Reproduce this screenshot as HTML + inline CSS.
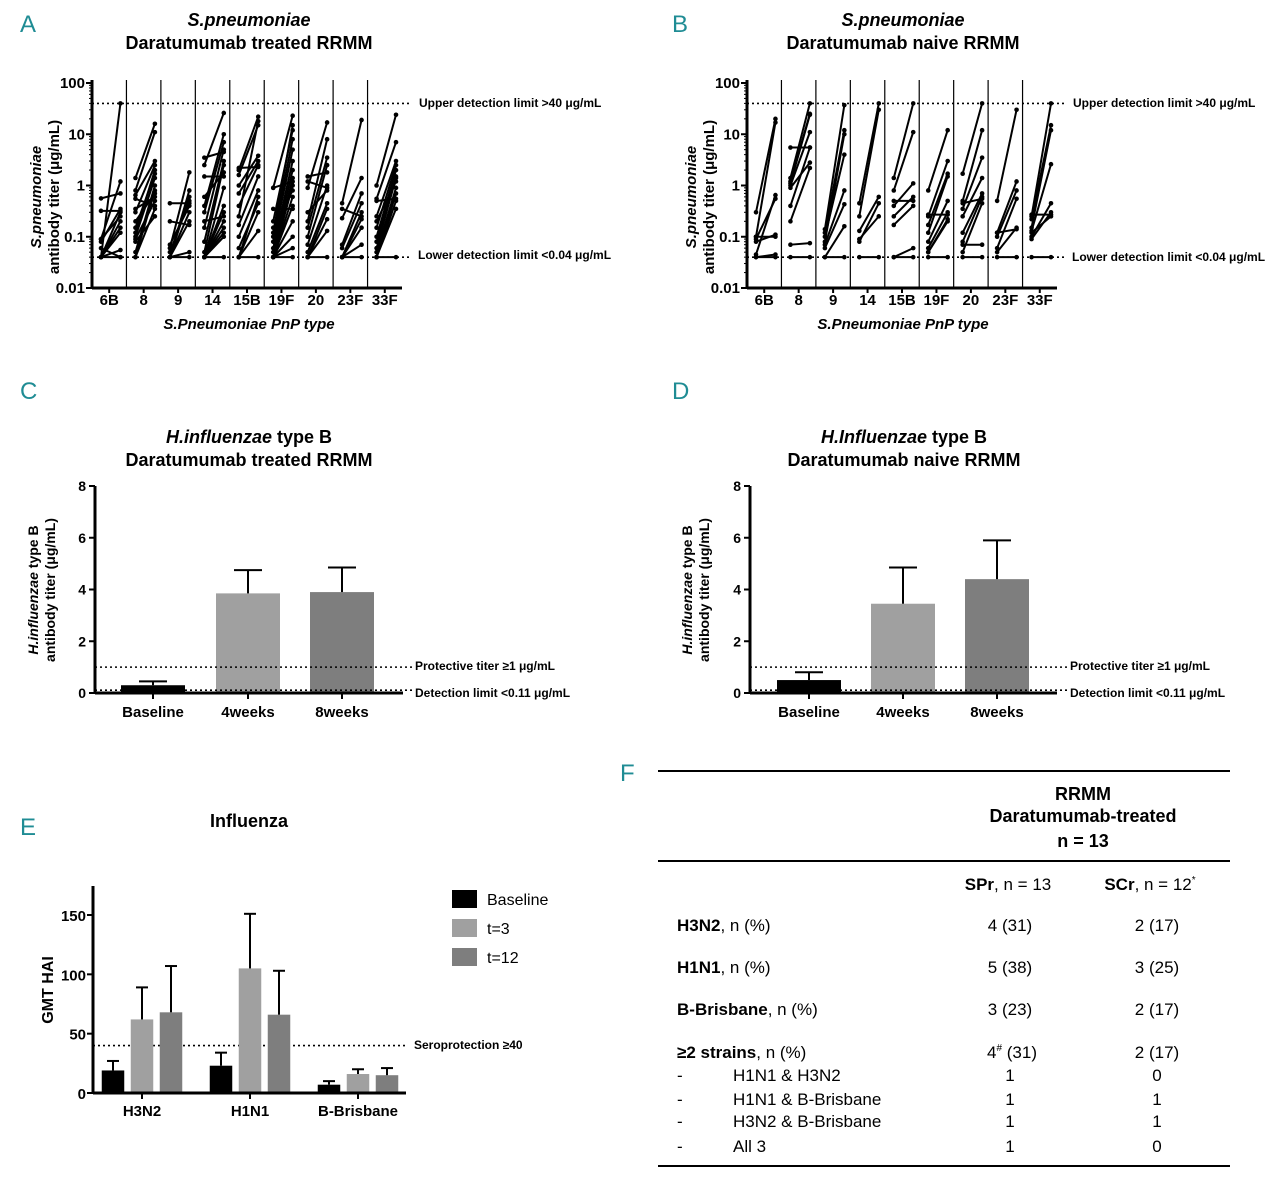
<!DOCTYPE html>
<html><head><meta charset="utf-8"><style>
body{margin:0;background:#fff;}
svg{display:block;font-family:"Liberation Sans",sans-serif;}
.b{font-weight:bold}
.n{font-family:"Liberation Sans Narrow","Liberation Sans",sans-serif;}
.lt{fill:#1f8c94;font-family:"Liberation Sans Narrow","Liberation Sans",sans-serif;font-size:24px}
</style></head><body>
<svg id="fig" width="1280" height="1178" viewBox="0 0 1280 1178" xmlns="http://www.w3.org/2000/svg">
<g id="static">
<text class="lt" x="20" y="32">A</text>
<text class="lt" x="672" y="32">B</text>
<text class="lt" x="20" y="399">C</text>
<text class="lt" x="672" y="399">D</text>
<text class="lt" x="20" y="835">E</text>
<text class="lt" x="620" y="781">F</text>

<g class="b" font-size="18" text-anchor="middle">
<text x="249" y="26" font-style="italic">S.pneumoniae</text><text x="249" y="49">Daratumumab treated RRMM</text></g>
<g class="b" font-size="18" text-anchor="middle">
<text x="903" y="26" font-style="italic">S.pneumoniae</text><text x="903" y="49">Daratumumab naive RRMM</text></g>
<g class="b" font-size="18" text-anchor="middle">
<text x="249" y="443"><tspan font-style="italic">H.influenzae</tspan> type B</text><text x="249" y="466">Daratumumab treated RRMM</text></g>
<g class="b" font-size="18" text-anchor="middle">
<text x="904" y="443"><tspan font-style="italic">H.Influenzae</tspan> type B</text><text x="904" y="466">Daratumumab naive RRMM</text></g>
<text class="b" font-size="18" x="249" y="827" text-anchor="middle">Influenza</text>

<g class="b" font-size="15">
<text transform="translate(41,197) rotate(-90)" text-anchor="middle" font-style="italic">S.pneumoniae</text>
<text transform="translate(59,197) rotate(-90)" text-anchor="middle">antibody titer (μg/mL)</text></g>
<g class="b" font-size="15">
<text transform="translate(696,197) rotate(-90)" text-anchor="middle" font-style="italic">S.pneumoniae</text>
<text transform="translate(714,197) rotate(-90)" text-anchor="middle">antibody titer (μg/mL)</text></g>
<g class="b" font-size="14">
<text transform="translate(38,590) rotate(-90)" text-anchor="middle"><tspan font-style="italic">H.influenzae</tspan> type B</text>
<text transform="translate(55,590) rotate(-90)" text-anchor="middle">antibody titer (μg/mL)</text></g>
<g class="b" font-size="14">
<text transform="translate(692,590) rotate(-90)" text-anchor="middle"><tspan font-style="italic">H.influenzae</tspan> type B</text>
<text transform="translate(709,590) rotate(-90)" text-anchor="middle">antibody titer (μg/mL)</text></g>
<text class="b" font-size="16" transform="translate(53,990) rotate(-90)" text-anchor="middle">GMT HAI</text>

<g class="b" font-size="15" font-style="italic" text-anchor="middle">
<text x="249" y="329">S.Pneumoniae PnP type</text>
<text x="903" y="329">S.Pneumoniae PnP type</text></g>

<g class="b n" font-size="12">
<text x="419" y="107">Upper detection limit &gt;40 μg/mL</text>
<text x="418" y="259">Lower detection limit &lt;0.04 μg/mL</text>
<text x="1073" y="107">Upper detection limit &gt;40 μg/mL</text>
<text x="1072" y="261">Lower detection limit &lt;0.04 μg/mL</text>
<text x="415" y="670">Protective titer ≥1 μg/mL</text>
<text x="415" y="697">Detection limit &lt;0.11 μg/mL</text>
<text x="1070" y="670">Protective titer ≥1 μg/mL</text>
<text x="1070" y="697">Detection limit &lt;0.11 μg/mL</text>
<text x="414" y="1049">Seroprotection ≥40</text>
</g>

<g font-size="16">
<rect x="452" y="890" width="25" height="18" fill="#000"/>
<text x="487" y="905">Baseline</text>
<rect x="452" y="919" width="25" height="18" fill="#a0a0a0"/>
<text x="487" y="934">t=3</text>
<rect x="452" y="948" width="25" height="18" fill="#7e7e7e"/>
<text x="487" y="963">t=12</text>
</g>

<g font-size="17">
<line x1="658" y1="771" x2="1230" y2="771" stroke="#000" stroke-width="2"/>
<line x1="658" y1="861" x2="1230" y2="861" stroke="#000" stroke-width="2"/>
<line x1="658" y1="1166" x2="1230" y2="1166" stroke="#000" stroke-width="2"/>
<g class="b" text-anchor="middle" font-size="18"><text x="1083" y="800">RRMM</text><text x="1083" y="822">Daratumumab-treated</text><text x="1083" y="847">n = 13</text></g>
<text x="1008" y="890" text-anchor="middle"><tspan class="b">SPr</tspan>, n = 13</text>
<text x="1150" y="890" text-anchor="middle"><tspan class="b">SCr</tspan>, n = 12<tspan font-size="10" dy="-7">*</tspan></text>
<text x="677" y="931"><tspan class="b">H3N2</tspan>, n (%)</text><text x="1010" y="931" text-anchor="middle">4 (31)</text><text x="1157" y="931" text-anchor="middle">2 (17)</text>
<text x="677" y="973"><tspan class="b">H1N1</tspan>, n (%)</text><text x="1010" y="973" text-anchor="middle">5 (38)</text><text x="1157" y="973" text-anchor="middle">3 (25)</text>
<text x="677" y="1015"><tspan class="b">B-Brisbane</tspan>, n (%)</text><text x="1010" y="1015" text-anchor="middle">3 (23)</text><text x="1157" y="1015" text-anchor="middle">2 (17)</text>
<text x="677" y="1058"><tspan class="b">≥2 strains</tspan>, n (%)</text><text x="1012" y="1058" text-anchor="middle">4<tspan font-size="10" dy="-7">#</tspan><tspan dy="7"> (31)</tspan></text><text x="1157" y="1058" text-anchor="middle">2 (17)</text>
<text x="677" y="1081">-</text><text x="733" y="1081">H1N1 &amp; H3N2</text><text x="1010" y="1081" text-anchor="middle">1</text><text x="1157" y="1081" text-anchor="middle">0</text>
<text x="677" y="1105">-</text><text x="733" y="1105">H1N1 &amp; B-Brisbane</text><text x="1010" y="1105" text-anchor="middle">1</text><text x="1157" y="1105" text-anchor="middle">1</text>
<text x="677" y="1127">-</text><text x="733" y="1127">H3N2 &amp; B-Brisbane</text><text x="1010" y="1127" text-anchor="middle">1</text><text x="1157" y="1127" text-anchor="middle">1</text>
<text x="677" y="1152">-</text><text x="733" y="1152">All 3</text><text x="1010" y="1152" text-anchor="middle">1</text><text x="1157" y="1152" text-anchor="middle">0</text>
</g>
</g>
<g id="dyn"></g>
</svg>
<script>
const pnpTypes = ["6B","8","9","14","15B","19F","20","23F","33F"];
const logTicks = [100,10,1,0.1,0.01];
const logTickLabels = ["100","10","1","0.1","0.01"];
const treatedPairs = [
 [[0.04,40],[0.56,0.7],[0.32,0.32],[0.09,1.2],[0.09,0.25],[0.04,0.3],[0.04,0.15],[0.04,0.2],[0.04,0.12],[0.04,0.055],[0.06,0.04],[0.04,0.04],[0.08,0.35]],
 [[1.4,16],[0.8,11],[0.65,3],[0.3,2.5],[0.12,2],[0.1,1.4],[0.05,1],[0.04,0.8],[0.2,0.7],[0.35,0.6],[0.09,0.5],[0.04,0.35],[0.08,0.25],[0.55,0.4],[0.15,1.7]],
 [[0.45,0.45],[0.2,0.17],[0.06,1.8],[0.04,0.8],[0.04,0.6],[0.05,0.5],[0.04,0.3],[0.04,0.05],[0.04,0.04],[0.07,0.4],[0.04,0.2]],
 [[3.5,4.5],[2.5,26],[1.5,1.5],[0.4,10],[0.3,7],[0.15,5],[0.08,3],[0.05,2.5],[0.04,0.9],[0.04,0.4],[0.04,0.3],[0.04,0.2],[0.04,0.15],[0.04,0.12],[0.04,0.1],[0.04,0.04],[0.6,1.8],[0.2,0.25]],
 [[2.2,2.3],[2,22],[1.6,15],[1,3.8],[0.4,2.5],[0.17,1.5],[0.1,0.8],[0.06,0.45],[0.04,0.3],[0.04,0.13],[0.04,0.04],[0.7,3],[0.25,18],[0.04,0.6]],
 [[0.9,23],[0.9,1.2],[0.35,0.35],[0.12,15],[0.1,8],[0.08,5],[0.06,3],[0.05,2],[0.04,1.4],[0.04,1],[0.04,0.6],[0.04,0.4],[0.04,0.2],[0.04,0.1],[0.04,0.06],[0.04,0.04],[0.2,12],[0.15,0.8]],
 [[1.5,1.8],[0.9,17],[0.2,8],[0.15,3.5],[0.1,2.5],[0.07,1],[0.05,0.45],[0.04,0.35],[0.04,0.22],[0.04,0.13],[0.04,0.04],[0.3,0.8],[1.2,0.9]],
 [[0.45,19],[0.23,1.4],[0.07,0.7],[0.06,0.45],[0.04,0.3],[0.04,0.22],[0.04,0.15],[0.04,0.07],[0.04,0.04],[0.35,0.25]],
 [[1,24],[0.55,7],[0.25,3],[0.15,2.5],[0.1,2],[0.08,1.5],[0.06,1.4],[0.05,0.9],[0.04,0.7],[0.04,0.5],[0.04,0.35],[0.04,0.04],[0.5,0.55],[0.2,1.2]]
];
const naivePairs = [
 [[0.3,20],[0.1,17],[0.09,0.55],[0.1,0.1],[0.045,0.65],[0.04,0.045],[0.04,0.04],[0.08,0.11]],
 [[5.5,5.5],[1.4,40],[1.2,25],[1,11],[0.4,5.5],[0.2,2.2],[0.07,0.075],[0.04,0.04],[0.9,2.8],[1.1,24]],
 [[0.14,37],[0.12,12],[0.1,4],[0.07,0.8],[0.06,0.43],[0.04,0.16],[0.04,0.04],[0.08,10]],
 [[0.45,40],[0.25,30],[0.13,0.6],[0.08,0.45],[0.04,0.04],[0.09,0.25]],
 [[1.4,40],[0.8,11],[0.4,1.1],[0.25,0.6],[0.17,0.4],[0.04,0.06],[0.04,0.04],[0.5,0.5]],
 [[0.8,12],[0.25,3],[0.17,1.7],[0.12,1.5],[0.08,0.5],[0.06,0.3],[0.05,0.22],[0.04,0.04],[0.27,0.27],[0.05,0.2]],
 [[1.7,40],[0.5,12],[0.35,3.5],[0.25,1.4],[0.12,0.7],[0.08,0.6],[0.07,0.07],[0.05,0.45],[0.04,0.04],[0.45,0.55]],
 [[0.5,30],[0.12,1.2],[0.1,0.8],[0.06,0.55],[0.05,0.15],[0.04,0.04],[0.12,0.14]],
 [[0.25,40],[0.22,15],[0.15,12],[0.13,2.6],[0.1,0.45],[0.09,0.3],[0.04,0.04],[0.27,0.27],[0.12,0.25]]
];
const pnpLimits = [40,0.04];
const hibCats = ["Baseline","4weeks","8weeks"];
const hibTreatedMean = [0.3,3.85,3.9];
const hibTreatedErr = [0.45,4.75,4.85];
const hibNaiveMean = [0.5,3.45,4.4];
const hibNaiveErr = [0.8,4.85,5.9];
const hibTicks = [0,2,4,6,8];
const hibLimits = [1,0.11];
const fluStrains = ["H3N2","H1N1","B-Brisbane"];
const fluSeries = ["Baseline","t=3","t=12"];
const fluBaseline = [19,23,7];
const fluT3 = [62,105,16];
const fluT12 = [68,66,15];
const fluBaselineErr = [27,34,10];
const fluT3Err = [89,151,20];
const fluT12Err = [107,103,21];
const fluTicks = [0,50,100,150];
const seroprotection = 40;

const NS="http://www.w3.org/2000/svg";
const dyn=document.getElementById('dyn');
function mk(tag,attrs,parent){const e=document.createElementNS(NS,tag);for(const k in attrs)e.setAttribute(k,attrs[k]);(parent||dyn).appendChild(e);return e;}

function pnpPanel(x0,x1,pairs,key){
  const top=83,bot=288;
  const y=v=>top+(Math.log10(100)-Math.log10(v))/4*(bot-top);
  const cw=(x1-x0)/pnpTypes.length;
  const g=mk('g',{});
  
  
  mk('line',{x1:x0,y1:top-3,x2:x0,y2:bot,stroke:'#000','stroke-width':3},g);
  mk('line',{x1:x0,y1:bot,x2:x1,y2:bot,stroke:'#000','stroke-width':3},g);
  logTicks.forEach((t,i)=>{
    mk('line',{x1:x0-6,y1:y(t),x2:x0,y2:y(t),stroke:'#000','stroke-width':2},g);
    for(let m=2;m<10&&t<100;m++){mk('line',{x1:x0-3,y1:y(t*m),x2:x0,y2:y(t*m),stroke:'#000','stroke-width':1},g);}
    const tx=mk('text',{x:x0-7,y:y(t)+5,'text-anchor':'end','font-size':15,'font-weight':'bold'},g);
    tx.textContent=logTickLabels[i];
    
    
  });
  pnpLimits.forEach(l=>{
    const ln=mk('line',{x1:x0,y1:y(l),x2:x1+10,y2:y(l),stroke:'#000','stroke-width':1.6,'stroke-dasharray':'2,3'},g);
    
    
  });
  pnpTypes.forEach((c,i)=>{
    const cx=x0+cw*i;
    if(i>0) mk('line',{x1:cx,y1:top-3,x2:cx,y2:bot,stroke:'#000','stroke-width':1.2},g);
    const lb=mk('text',{x:cx+cw/2,y:bot+17,'text-anchor':'middle','font-size':15,'font-weight':'bold'},g);
    lb.textContent=c;
    
    
    mk('line',{x1:cx+cw/2,y1:bot,x2:cx+cw/2,y2:bot+5,stroke:'#000','stroke-width':2},g);
    pairs[i].forEach(p=>{
      const xa=cx+9,xb=cx+cw-6;
      const ln=mk('line',{x1:xa,y1:y(p[0]),x2:xb,y2:y(p[1]),stroke:'#000','stroke-width':2},g);
      
      
      mk('circle',{cx:xa,cy:y(p[0]),r:2.3,fill:'#000'},g);
      mk('circle',{cx:xb,cy:y(p[1]),r:2.3,fill:'#000'},g);
    });
  });
}
pnpPanel(92,402,treatedPairs,'panel-a');
pnpPanel(747,1057,naivePairs,'panel-b');

function hibPanel(x0,x1,centers,mean,err,key){
  const top=486,bot=693;
  const y=v=>bot-v/8*(bot-top);
  const g=mk('g',{});
  
  
  const cols=['#000','#a0a0a0','#7e7e7e'];
  hibCats.forEach((c,i)=>{
    const cx=centers[i];
    const b=mk('rect',{x:cx-32,y:y(mean[i]),width:64,height:bot-y(mean[i]),fill:cols[i]},g);
    
    
    mk('line',{x1:cx,y1:y(mean[i]),x2:cx,y2:y(err[i]),stroke:'#000','stroke-width':2},g);
    mk('line',{x1:cx-14,y1:y(err[i]),x2:cx+14,y2:y(err[i]),stroke:'#000','stroke-width':2},g);
    mk('line',{x1:cx,y1:bot,x2:cx,y2:bot+6,stroke:'#000','stroke-width':2},g);
    const lb=mk('text',{x:cx,y:bot+24,'text-anchor':'middle','font-size':15,'font-weight':'bold'},g);
    lb.textContent=c;
    
    
  });
  hibLimits.forEach(l=>{
    const ln=mk('line',{x1:x0,y1:y(l),x2:x1+10,y2:y(l),stroke:'#000','stroke-width':1.6,'stroke-dasharray':'2,3'},g);
    
    
  });
  mk('line',{x1:x0,y1:top,x2:x0,y2:bot,stroke:'#000','stroke-width':3},g);
  mk('line',{x1:x0,y1:bot,x2:x1,y2:bot,stroke:'#000','stroke-width':3},g);
  hibTicks.forEach(t=>{
    mk('line',{x1:x0-6,y1:y(t),x2:x0,y2:y(t),stroke:'#000','stroke-width':2},g);
    const tx=mk('text',{x:x0-9,y:y(t)+5,'text-anchor':'end','font-size':14,'font-weight':'bold'},g);
    tx.textContent=t;
    
    
  });
}
hibPanel(95,403,[153,248,342],hibTreatedMean,hibTreatedErr,'panel-c');
hibPanel(750,1057,[809,903,997],hibNaiveMean,hibNaiveErr,'panel-d');

(function(){
  const x0=93,x1=406,bot=1093,top=886;
  const y=v=>bot-v*(1093-915)/150;
  const g=mk('g',{});
  
  
  const series=[fluBaseline,fluT3,fluT12];
  const errs=[fluBaselineErr,fluT3Err,fluT12Err];
  const cols=['#000','#a0a0a0','#7e7e7e'];
  const groupC=[142,250,358], bw=22.5, step=29;
  const sl=mk('line',{x1:x0,y1:y(seroprotection),x2:x1,y2:y(seroprotection),stroke:'#000','stroke-width':1.6,'stroke-dasharray':'2,3'},g);
  
  
  fluStrains.forEach((s,i)=>{
    series.forEach((ser,j)=>{
      const cx=groupC[i]+(j-1)*step;
      const b=mk('rect',{x:cx-bw/2,y:y(ser[i]),width:bw,height:bot-y(ser[i]),fill:cols[j]},g);
      
      
      mk('line',{x1:cx,y1:y(ser[i]),x2:cx,y2:y(errs[j][i]),stroke:'#000','stroke-width':2},g);
      mk('line',{x1:cx-6,y1:y(errs[j][i]),x2:cx+6,y2:y(errs[j][i]),stroke:'#000','stroke-width':2},g);
    });
    mk('line',{x1:groupC[i],y1:bot,x2:groupC[i],y2:bot+6,stroke:'#000','stroke-width':2},g);
    const lb=mk('text',{x:groupC[i],y:bot+23,'text-anchor':'middle','font-size':15,'font-weight':'bold'},g);
    lb.textContent=s;
    
    
  });
  mk('line',{x1:x0,y1:top,x2:x0,y2:bot,stroke:'#000','stroke-width':3},g);
  mk('line',{x1:x0,y1:bot,x2:x1,y2:bot,stroke:'#000','stroke-width':3},g);
  fluTicks.forEach(t=>{
    mk('line',{x1:x0-6,y1:y(t),x2:x0,y2:y(t),stroke:'#000','stroke-width':2},g);
    const tx=mk('text',{x:x0-7,y:y(t)+6,'text-anchor':'end','font-size':15,'font-weight':'bold'},g);
    tx.textContent=t;
    
    
  });
})();
</script>
</body></html>
